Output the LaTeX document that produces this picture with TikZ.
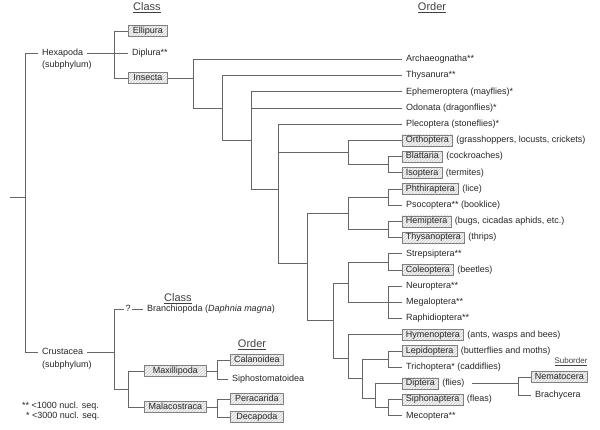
\documentclass[tikz,border=0pt]{standalone}
\usepackage{fontspec}
\setmainfont{Liberation Sans}
\usetikzlibrary{positioning,patterns}
\tikzset{
  leaf/.style={anchor=west, inner xsep=4pt, inner ysep=1.3pt, text height=6.5pt,
    text depth=2pt, text=black!85, font=\fontsize{9}{11}\selectfont},
  taxbox/.style={leaf, inner xsep=3.5pt, draw=black!50, line width=0.6pt,
    preaction={fill=black!4},
    preaction={pattern=north east lines, pattern color=black!22}},
  note/.style={leaf, inner xsep=3.5pt},
  head/.style={font=\fontsize{11}{13}\selectfont, text=black!75, inner sep=1pt},
  branch/.style={draw=black!60, line width=0.9pt},
}
\begin{document}
\begin{tikzpicture}[x=1pt,y=-1pt]
  \useasboundingbox (0,0) rectangle (600,429);
  % headings
  \path
    (147,8) node[head] (hclass) {\underline{Class}}
    (432,8) node[head] (horder) {\underline{Order}}
    (178,299) node[head] (hclass2) {\underline{Class}}
    (252,345) node[head] (horder2) {\underline{Order}}
    (571,362) node[head, font=\fontsize{8}{10}\selectfont] (hsub) {\underline{Suborder}};
  % subphyla and classes
  \path
    (10,197) coordinate (root)
    (25,197) coordinate (j0)
    (38,53) node[leaf] (hexa) {Hexapoda}
    (38,65) node[leaf] (hexasub) {(subphylum)}
    (38,352) node[leaf] (crus) {Crustacea}
    (38,365) node[leaf] (crussub) {(subphylum)}
    (114,53) coordinate (jhex)
    (128,31) node[taxbox, minimum width=39pt] (ellip) {Ellipura}
    (128,53) node[leaf] (dipl) {Diplura**}
    (128,78) node[taxbox, minimum width=39pt] (insec) {Insecta}
    (114,352) coordinate (jcru)
    (124,309) node[leaf, inner xsep=1.5pt] (quest) {?}
    (143,309) node[leaf] (branch) {Branchiopoda (\textit{Daphnia magna})}
    (128,389) coordinate (jmx)
    (144,371) node[taxbox, minimum width=62pt] (maxil) {Maxillipoda}
    (144,407) node[taxbox, minimum width=62pt] (malac) {Malacostraca}
    (217,371) coordinate (jmax)
    (217,407) coordinate (jmal)
    (230,360) node[taxbox, minimum width=53pt] (calan) {Calanoidea}
    (228,379) node[leaf] (sipho) {Siphostomatoidea}
    (230,399) node[taxbox, minimum width=53pt] (perac) {Peracarida}
    (230,417) node[taxbox, minimum width=53pt] (decap) {Decapoda}
    (18,406) node[leaf] (key1) {** <1000 nucl. seq.}
    (22,416) node[leaf] (key2) {* <3000 nucl. seq.};
  % orders
  \path
    (402,59.5) node[leaf] (arch) {Archaeognatha**}
    (402,75.7) node[leaf] (thys) {Thysanura**}
    (402,91.9) node[leaf] (ephem) {Ephemeroptera (mayflies)*}
    (402,108.1) node[leaf] (odon) {Odonata (dragonflies)*}
    (402,124.3) node[leaf] (plec) {Plecoptera (stoneflies)*}
    (402,140.5) node[taxbox] (orth) {Orthoptera}
    (402,156.7) node[taxbox] (blat) {Blattaria}
    (402,172.9) node[taxbox] (isop) {Isoptera}
    (402,189.1) node[taxbox] (phth) {Phthiraptera}
    (402,205.3) node[leaf] (psoc) {Psocoptera** (booklice)}
    (402,221.5) node[taxbox] (hemi) {Hemiptera}
    (402,237.7) node[taxbox] (thyp) {Thysanoptera}
    (402,253.9) node[leaf] (strep) {Strepsiptera**}
    (402,270.1) node[taxbox] (coleo) {Coleoptera}
    (402,286.3) node[leaf] (neur) {Neuroptera**}
    (402,302.5) node[leaf] (megal) {Megaloptera**}
    (402,318.7) node[leaf] (raph) {Raphidioptera**}
    (402,334.9) node[taxbox] (hymen) {Hymenoptera}
    (402,351.1) node[taxbox] (lepid) {Lepidoptera}
    (402,367.3) node[leaf] (trich) {Trichoptera* (caddiflies)}
    (402,383.5) node[taxbox] (dipt) {Diptera}
    (402,399.7) node[taxbox] (siph) {Siphonaptera}
    (402,415.9) node[leaf] (mecop) {Mecoptera**};
  \node[note, right=0pt of orth] (orthN) {(grasshoppers, locusts, crickets)};
  \node[note, right=0pt of blat] (blatN) {(cockroaches)};
  \node[note, right=0pt of isop] (isopN) {(termites)};
  \node[note, right=0pt of phth] (phthN) {(lice)};
  \node[note, right=0pt of hemi] (hemiN) {(bugs, cicadas aphids, etc.)};
  \node[note, right=0pt of thyp] (thypN) {(thrips)};
  \node[note, right=0pt of coleo] (coleoN) {(beetles)};
  \node[note, right=0pt of hymen] (hymenN) {(ants, wasps and bees)};
  \node[note, right=0pt of lepid] (lepidN) {(butterflies and moths)};
  \node[note, right=0pt of dipt] (diptN) {(flies)};
  \node[note, right=0pt of siph] (siphN) {(fleas)};
  % suborders
  \path
    (518,383.5) coordinate (jsub)
    (531,377) node[taxbox] (nemat) {Nematocera}
    (531,395) node[leaf] (brach) {Brachycera};
  % junctions of the insect tree
  \path
    (193,78) coordinate (j1)
    (222,108.1) coordinate (j2)
    (251,140) coordinate (j3)
    (278,189) coordinate (j4)
    (348,152) coordinate (j5)
    (307,263) coordinate (j6)
    (388,164.8) coordinate (j7)
    (348,213) coordinate (j8)
    (388,197.2) coordinate (j9)
    (388,229.6) coordinate (j10)
    (333,320) coordinate (j11)
    (348,283) coordinate (j12)
    (388,262) coordinate (j13)
    (388,302.5) coordinate (j14)
    (348,358) coordinate (j15)
    (362,378) coordinate (j16)
    (388,359.2) coordinate (j17)
    (375,398) coordinate (j18)
    (388,407.8) coordinate (j19);
  \begin{scope}[branch]
    \draw (root) -- (j0);
    \draw (j0) |- (hexa);
    \draw (j0) |- (crus);
    \draw (hexa) -- (jhex);
    \draw (jhex) |- (ellip);
    \draw (jhex) -- (dipl);
    \draw (jhex) |- (insec);
    \draw (insec) -- (j1);
    \draw (j1) |- (arch);
    \draw (j1) |- (j2);
    \draw (j2) |- (thys);
    \draw (j2) |- (j3);
    \draw (j3) |- (ephem);
    \draw (j3) |- (odon);
    \draw (j3) |- (j4);
    \draw (j4) |- (plec);
    \draw (j4) |- (j5);
    \draw (j4) |- (j6);
    \draw (j5) |- (orth);
    \draw (j5) |- (j7);
    \draw (j7) |- (blat);
    \draw (j7) |- (isop);
    \draw (j6) |- (j8);
    \draw (j6) |- (j11);
    \draw (j8) |- (j9);
    \draw (j8) |- (j10);
    \draw (j9) |- (phth);
    \draw (j9) |- (psoc);
    \draw (j10) |- (hemi);
    \draw (j10) |- (thyp);
    \draw (j11) |- (j12);
    \draw (j11) |- (j15);
    \draw (j12) |- (j13);
    \draw (j12) |- (j14);
    \draw (j13) |- (strep);
    \draw (j13) |- (coleo);
    \draw (j14) |- (neur);
    \draw (j14) |- (megal);
    \draw (j14) |- (raph);
    \draw (j15) |- (hymen);
    \draw (j15) |- (j16);
    \draw (j16) |- (j17);
    \draw (j16) |- (j18);
    \draw (j17) |- (lepid);
    \draw (j17) |- (trich);
    \draw (j18) |- (dipt);
    \draw (j18) |- (j19);
    \draw (j19) |- (siph);
    \draw (j19) |- (mecop);
    \draw[shorten <=4pt] (diptN) -- (jsub);
    \draw (jsub) |- (nemat);
    \draw (jsub) |- (brach);
    % crustacea
    \draw (crus) -- (jcru);
    \draw (jcru) |- (quest);
    \draw (quest) -- (branch);
    \draw (jcru) |- (jmx);
    \draw (jmx) |- (maxil);
    \draw (jmx) |- (malac);
    \draw (maxil) -- (jmax);
    \draw (jmax) |- (calan);
    \draw (jmax) |- (sipho);
    \draw (malac) -- (jmal);
    \draw (jmal) |- (perac);
    \draw (jmal) |- (decap);
  \end{scope}
\end{tikzpicture}
\end{document}
